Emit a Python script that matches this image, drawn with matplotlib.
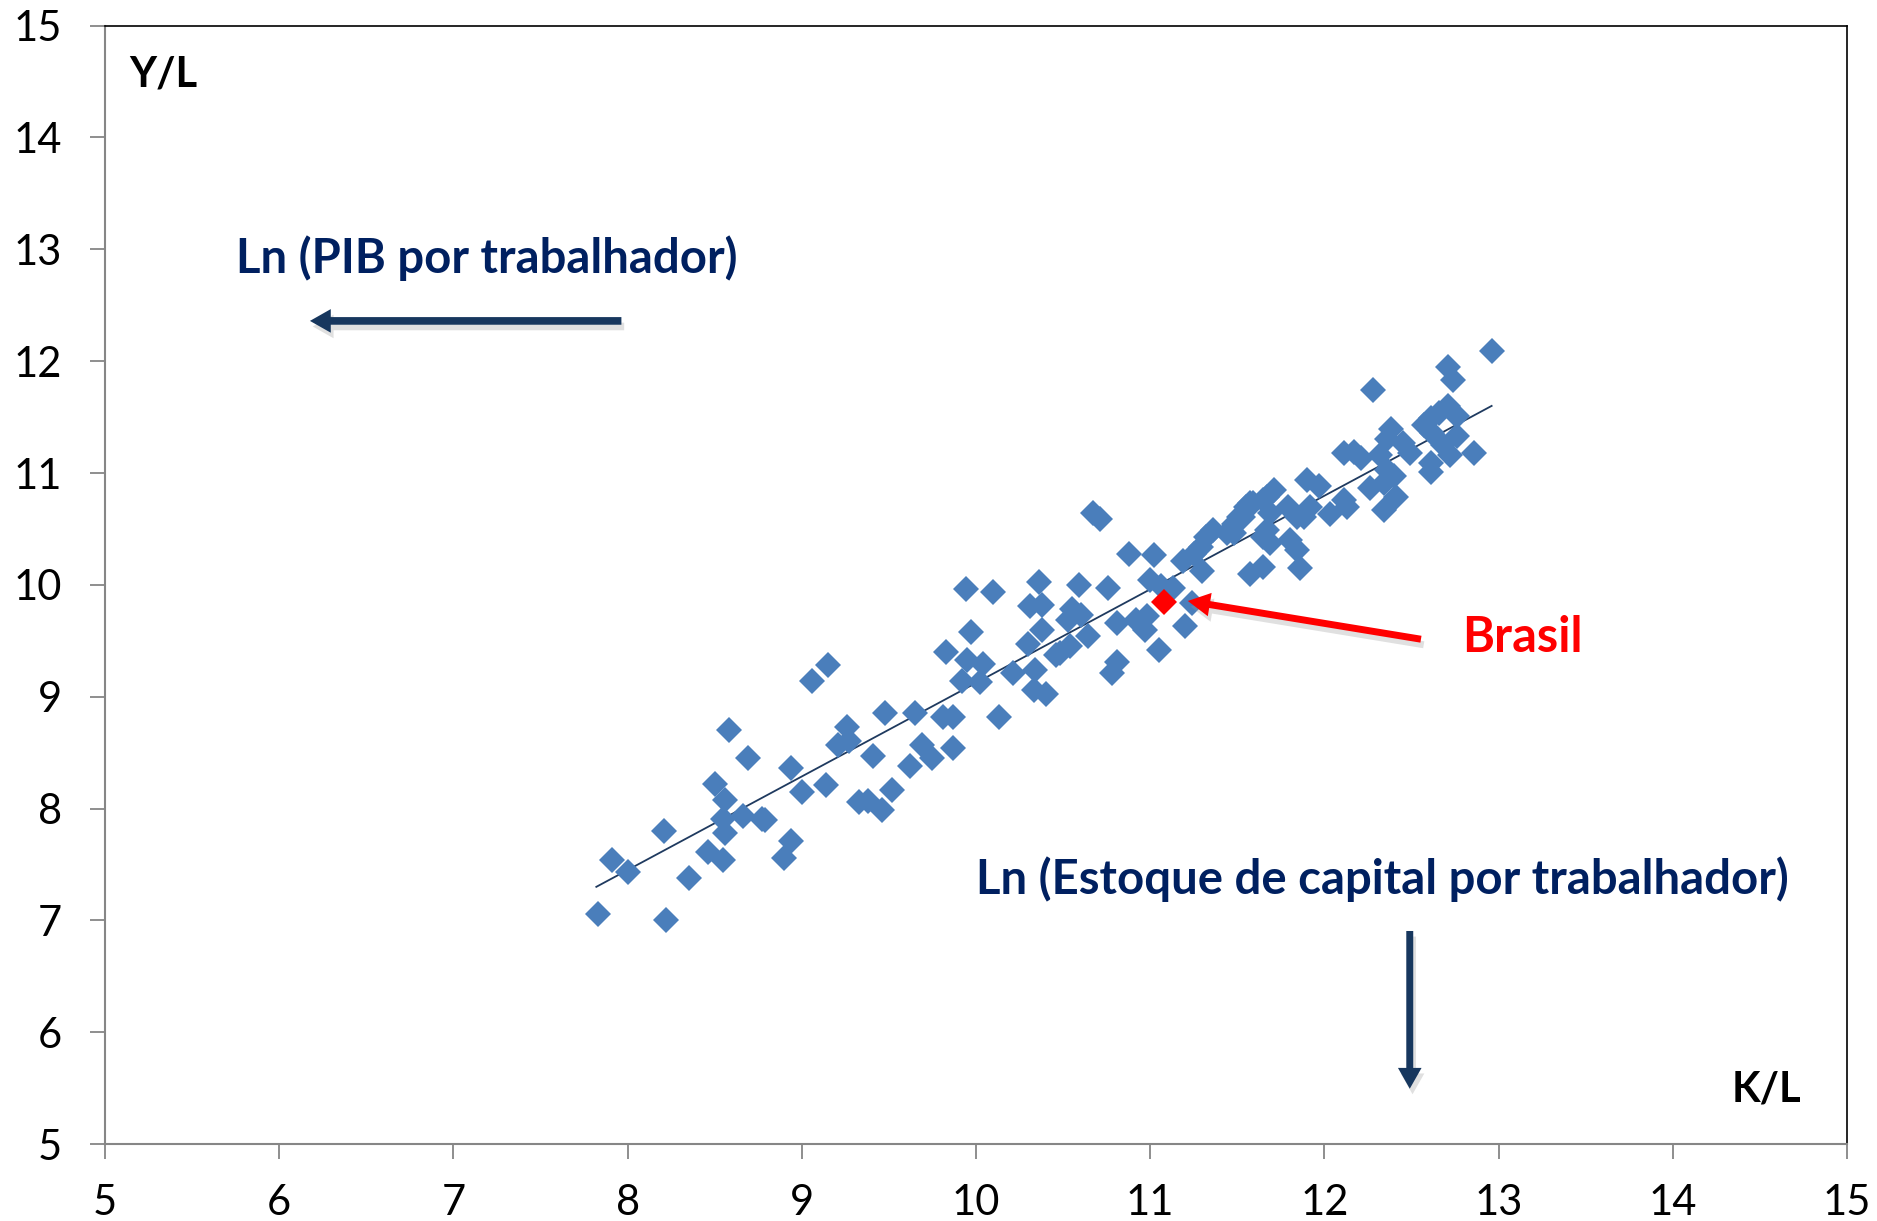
import matplotlib
matplotlib.use("Agg")
import matplotlib.pyplot as plt
import matplotlib.patheffects as pe
from matplotlib.patches import FancyArrowPatch

plt.rcParams['font.family'] = ['Lato', 'DejaVu Sans']

# pontos (ln K/L, ln Y/L)
kl = [7.83, 7.91, 8.00, 8.21, 8.22, 8.35, 8.46, 8.50, 8.55, 8.56, 8.56, 8.58,
      8.55, 8.66, 8.69, 8.77, 8.79, 8.90, 8.94, 8.94, 9.00, 9.06, 9.14, 9.15,
      9.21, 9.26, 9.27, 9.33, 9.38, 9.41, 9.46, 9.48, 9.52, 9.62, 9.65, 9.69,
      9.75, 9.81, 9.83, 9.87, 9.87, 9.92, 9.94, 9.95, 9.97, 10.02, 10.04, 10.10,
      10.13, 10.21, 10.30, 10.31, 10.33, 10.34, 10.36, 10.38, 10.38, 10.40, 10.46,
      10.48, 10.54, 10.55, 10.53, 10.59, 10.60, 10.64, 10.67, 10.71, 10.76, 10.78,
      10.81, 10.81, 10.88, 10.92, 10.97, 10.98, 11.00, 11.02, 11.05, 11.06, 11.13,
      11.19, 11.20, 11.24, 11.25, 11.29, 11.30, 11.32, 11.36, 11.44, 11.48, 11.48,
      11.51, 11.53, 11.55, 11.57, 11.57, 11.59, 11.65, 11.65, 11.65, 11.67, 11.67,
      11.69, 11.69, 11.71, 11.79, 11.80, 11.84, 11.84, 11.86, 11.88, 11.90, 11.92,
      11.97, 12.03, 12.11, 12.11, 12.13, 12.17, 12.21, 12.26, 12.28, 12.32, 12.34,
      12.34, 12.36, 12.36, 12.38, 12.40, 12.41, 12.45, 12.49, 12.57, 12.61, 12.61,
      12.61, 12.62, 12.66, 12.68, 12.71, 12.71, 12.72, 12.74, 12.76, 12.76, 12.86,
      12.96]
yl = [7.06, 7.54, 7.43, 7.80, 7.00, 7.38, 7.61, 8.22, 7.54, 8.08, 7.78, 8.70,
      7.91, 7.93, 8.45, 7.91, 7.90, 7.56, 8.36, 7.71, 8.15, 9.14, 8.21, 9.28,
      8.57, 8.73, 8.60, 8.06, 8.07, 8.47, 7.99, 8.85, 8.17, 8.38, 8.85, 8.57,
      8.45, 8.82, 9.40, 8.82, 8.54, 9.14, 9.96, 9.33, 9.58, 9.13, 9.29, 9.94,
      8.82, 9.21, 9.47, 9.81, 9.06, 9.24, 10.03, 9.82, 9.60, 9.02, 9.37,
      9.39, 9.45, 9.78, 9.69, 10.00, 9.73, 9.54, 10.64, 10.59, 9.97, 9.21,
      9.31, 9.66, 10.28, 9.69, 9.60, 9.72, 10.04, 10.27, 9.42, 9.99, 9.97,
      10.21, 9.63, 9.84, 10.28, 10.34, 10.12, 10.43, 10.49, 10.46, 10.54, 10.46,
      10.61, 10.61, 10.70, 10.73, 10.10, 10.73, 10.76, 10.16, 10.43, 10.79, 10.49,
      10.64, 10.37, 10.85, 10.70, 10.40, 10.61, 10.31, 10.15, 10.61, 10.94, 10.70,
      10.88, 10.63, 11.18, 10.76, 10.70, 11.19, 11.13, 10.87, 11.74, 11.16, 10.91,
      10.67, 11.30, 11.03, 11.39, 10.97, 10.79, 11.27, 11.18, 11.43, 11.49, 11.09,
      11.01, 11.36, 11.54, 11.25, 11.60, 11.95, 11.16, 11.83, 11.51, 11.33, 11.18,
      12.09]

brasil_kl = [11.08]
brasil_yl = [9.85]

# linha de tendencia (extremos)
trend_kl = [7.82, 12.96]
trend_yl = [7.30, 11.60]

ticks = list(range(5, 16))

navy = '#002060'
azul = '#4a7ebb'

fig = plt.figure(figsize=(18.77, 12.21), dpi=100)
ax = fig.add_axes([0.056, 0.063, 0.928, 0.916])

ax.plot(trend_kl, trend_yl, color='#1f3a5f', lw=1.3, zorder=2)
ax.plot(kl, yl, 'D', color=azul, ms=13, mew=0, zorder=3)
ax.plot(brasil_kl, brasil_yl, 'D', color='#ff0000', ms=13, mew=0, zorder=4)

ax.set_xlim(5, 15)
ax.set_ylim(5, 15)
ax.set_xticks(ticks)
ax.set_yticks(ticks)
ax.tick_params(axis='both', labelsize=30, length=11, width=1.3, color='#868686',
               direction='out')
ax.tick_params(axis='y', pad=20)
ax.tick_params(axis='x', pad=18)

for s in ['left', 'bottom']:
    ax.spines[s].set_color('#868686')
    ax.spines[s].set_linewidth(1.5)
for s in ['top', 'right']:
    ax.spines[s].set_color('black')
    ax.spines[s].set_linewidth(1.2)

# textos
ax.text(5.14, 14.56, 'Y/L', fontsize=30, fontweight='bold', color='black',
        ha='left', va='center')
ax.text(14.34, 5.49, 'K/L', fontsize=30, fontweight='bold', color='black',
        ha='left', va='center')
ax.text(5.75, 12.92, 'Ln (PIB por trabalhador)', fontsize=34, fontweight='bold',
        color=navy, ha='left', va='center')
ax.text(10.0, 7.37, 'Ln (Estoque de capital por trabalhador)', fontsize=34,
        fontweight='bold', color=navy, ha='left', va='center')
ax.text(12.79, 9.53, 'Brasil', fontsize=35, fontweight='bold', color='#ff0000',
        ha='left', va='center')

sombra = [pe.SimplePatchShadow(offset=(2, -4), shadow_rgbFace='#999999', alpha=0.3),
          pe.Normal()]


def seta(p0, p1, cor, cauda, cab_l, cab_w):
    a = FancyArrowPatch(p0, p1, mutation_scale=1, color=cor, lw=0,
                        arrowstyle='simple,head_length=%g,head_width=%g,tail_width=%g'
                        % (cab_l, cab_w, cauda), zorder=5)
    a.set_path_effects(sombra)
    ax.add_patch(a)


seta((7.98, 12.36), (6.16, 12.36), '#17375e', 5.5, 15, 17)
seta((12.49, 6.93), (12.49, 5.47), '#17375e', 5.0, 15, 17)
seta((12.57, 9.51), (11.20, 9.86), '#ff0000', 5.0, 16, 17)

fig.savefig('out.png', dpi=100)
